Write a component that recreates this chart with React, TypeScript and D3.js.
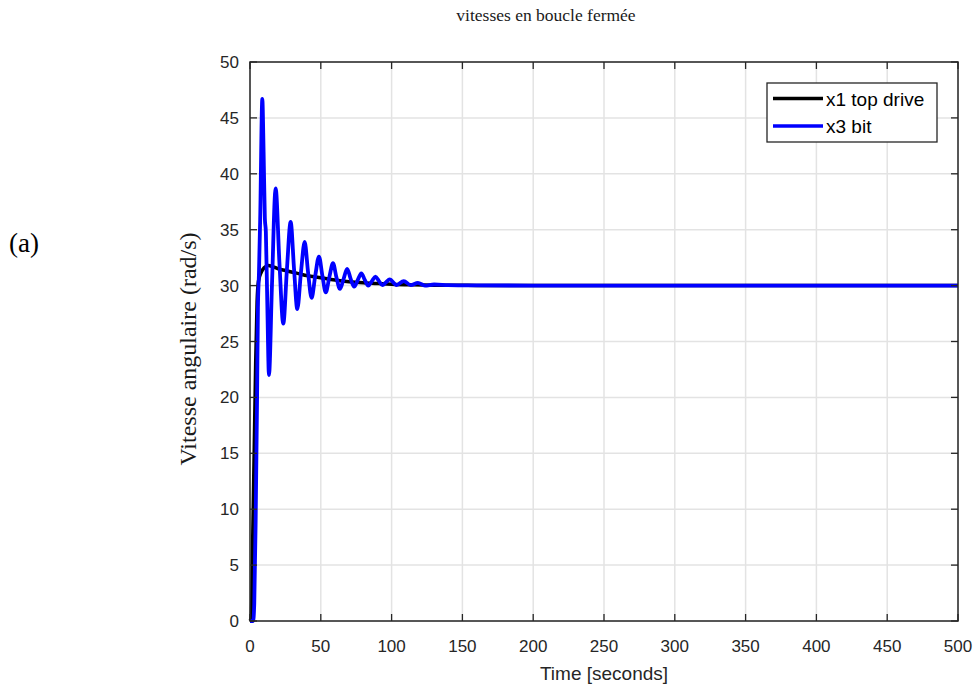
import React from "react";
import * as d3 from "d3";

const xTicks = [0, 50, 100, 150, 200, 250, 300, 350, 400, 450, 500];
const yTicks = [0, 5, 10, 15, 20, 25, 30, 35, 40, 45, 50];

// x1 top drive (time s, rad/s)
const topDriveT = [0, 0.9, 2, 3, 4, 5, 6, 8, 10, 13, 16, 20, 25, 30, 35, 40, 50, 60, 70, 80, 90, 100, 115, 130, 160, 200, 250, 500];
const topDriveV = [0, 0.3, 8, 15.5, 23, 28.5, 30.4, 31.2, 31.6, 31.8, 31.7, 31.5, 31.35, 31.2, 31.05, 30.9, 30.7, 30.5, 30.35, 30.25, 30.18, 30.12, 30.07, 30.04, 30.02, 30.01, 30, 30];

// x3 bit (time s, rad/s)
const bitT = [0, 2.2, 3, 4, 5, 5.6, 6.3, 7.2, 8.7, 9.6, 10.5, 11.2, 12.2, 13.4, 15.5, 18.1, 20.8, 23.5, 26.1, 28.7, 31.1, 33.4, 36, 38.6, 41, 43.5, 46.1, 48.7, 51.1, 53.5, 56.1, 58.6, 61.1, 63.5, 66.1, 68.6, 71.1, 73.5, 76.1, 78.6, 81.1, 83.5, 86.1, 88.6, 91.1, 93.5, 96.1, 98.6, 103.5, 108.6, 113.5, 118.6, 123.5, 130, 140, 160, 200, 500];
const bitV = [0, 0, 1.5, 9, 20, 28, 31, 36, 46.7, 42, 36, 34.8, 28.5, 22, 30, 38.7, 32, 26.6, 31.5, 35.7, 31.5, 27.9, 31.2, 33.9, 31.2, 28.9, 30.9, 32.6, 30.9, 29.4, 30.8, 32.0, 30.7, 29.7, 30.6, 31.5, 30.6, 29.9, 30.5, 31.1, 30.5, 30.0, 30.4, 30.8, 30.4, 30.05, 30.3, 30.55, 30.05, 30.4, 30.05, 30.25, 30.0, 30.1, 30.05, 30.02, 30, 30];

const W = 976;
const H = 688;
const M = { left: 250, right: 958, top: 62, bottom: 621 };

export default function App() {
  const x = d3.scaleLinear().domain([0, 500]).range([M.left, M.right]);
  const y = d3.scaleLinear().domain([0, 50]).range([M.bottom, M.top]);

  const line = d3
    .line<[number, number]>()
    .x((d) => x(d[0]))
    .y((d) => y(d[1]))
    .curve(d3.curveMonotoneX);

  const topPts: [number, number][] = topDriveT.map((t, i) => [t, topDriveV[i]]);
  const bitPts: [number, number][] = bitT.map((t, i) => [t, bitV[i]]);

  const axisColor = "#262626";
  const gridColor = "#e3e3e3";
  const tickLen = 7;

  return (
    <svg width={W} height={H} style={{ position: "absolute", left: 0, top: 0, background: "#fff" }}>
      <rect x={0} y={0} width={W} height={H} fill="#fff" />
      <text x={546} y={21} textAnchor="middle" fontFamily="'Liberation Serif', serif" fontSize={17.5} fill="#1a1a1a">
        vitesses en boucle fermée
      </text>
      <text x={9} y={252} fontFamily="'Liberation Serif', serif" fontSize={27} fill="#000">
        (a)
      </text>

      {/* grid */}
      {xTicks.map((t) => (
        <line key={"gx" + t} x1={x(t)} x2={x(t)} y1={M.top} y2={M.bottom} stroke={gridColor} strokeWidth={1.5} />
      ))}
      {yTicks.map((t) => (
        <line key={"gy" + t} x1={M.left} x2={M.right} y1={y(t)} y2={y(t)} stroke={gridColor} strokeWidth={1.5} />
      ))}

      {/* data */}
      <path d={line(topPts) || ""} fill="none" stroke="#000" strokeWidth={3.5} strokeLinejoin="round" />
      <path d={line(bitPts) || ""} fill="none" stroke="#0000ff" strokeWidth={3.8} strokeLinejoin="round" />

      {/* box */}
      <rect x={M.left} y={M.top} width={M.right - M.left} height={M.bottom - M.top} fill="none" stroke={axisColor} strokeWidth={1.5} />
      {xTicks.map((t) => (
        <g key={"tx" + t}>
          <line x1={x(t)} x2={x(t)} y1={M.bottom} y2={M.bottom - tickLen} stroke={axisColor} strokeWidth={1.3} />
          <line x1={x(t)} x2={x(t)} y1={M.top} y2={M.top + tickLen} stroke={axisColor} strokeWidth={1.3} />
          <text x={x(t)} y={652} textAnchor="middle" fontFamily="'Liberation Sans', Arial, sans-serif" fontSize={17} fill={axisColor}>
            {t}
          </text>
        </g>
      ))}
      {yTicks.map((t) => (
        <g key={"ty" + t}>
          <line x1={M.left} x2={M.left + tickLen} y1={y(t)} y2={y(t)} stroke={axisColor} strokeWidth={1.3} />
          <line x1={M.right} x2={M.right - tickLen} y1={y(t)} y2={y(t)} stroke={axisColor} strokeWidth={1.3} />
          <text x={239} y={y(t) + 6} textAnchor="end" fontFamily="'Liberation Sans', Arial, sans-serif" fontSize={17} fill={axisColor}>
            {t}
          </text>
        </g>
      ))}

      <text x={604} y={680} textAnchor="middle" fontFamily="'Liberation Sans', Arial, sans-serif" fontSize={19} fill={axisColor}>
        Time [seconds]
      </text>
      <text
        transform={`translate(196,349) rotate(-90)`}
        textAnchor="middle"
        fontFamily="'Liberation Serif', serif"
        fontSize={24}
        fill="#1a1a1a"
      >
        Vitesse angulaire (rad/s)
      </text>

      {/* legend */}
      <rect x={767} y={83} width={170} height={59} fill="#fff" stroke={axisColor} strokeWidth={1.3} />
      <line x1={773} x2={823} y1={98.5} y2={98.5} stroke="#000" strokeWidth={3.5} />
      <text x={826} y={106} fontFamily="'Liberation Sans', Arial, sans-serif" fontSize={19} fill="#000">
        x1 top drive
      </text>
      <line x1={773} x2={823} y1={126} y2={126} stroke="#0000ff" strokeWidth={3.5} />
      <text x={826} y={133} fontFamily="'Liberation Sans', Arial, sans-serif" fontSize={19} fill="#000">
        x3 bit
      </text>
    </svg>
  );
}
